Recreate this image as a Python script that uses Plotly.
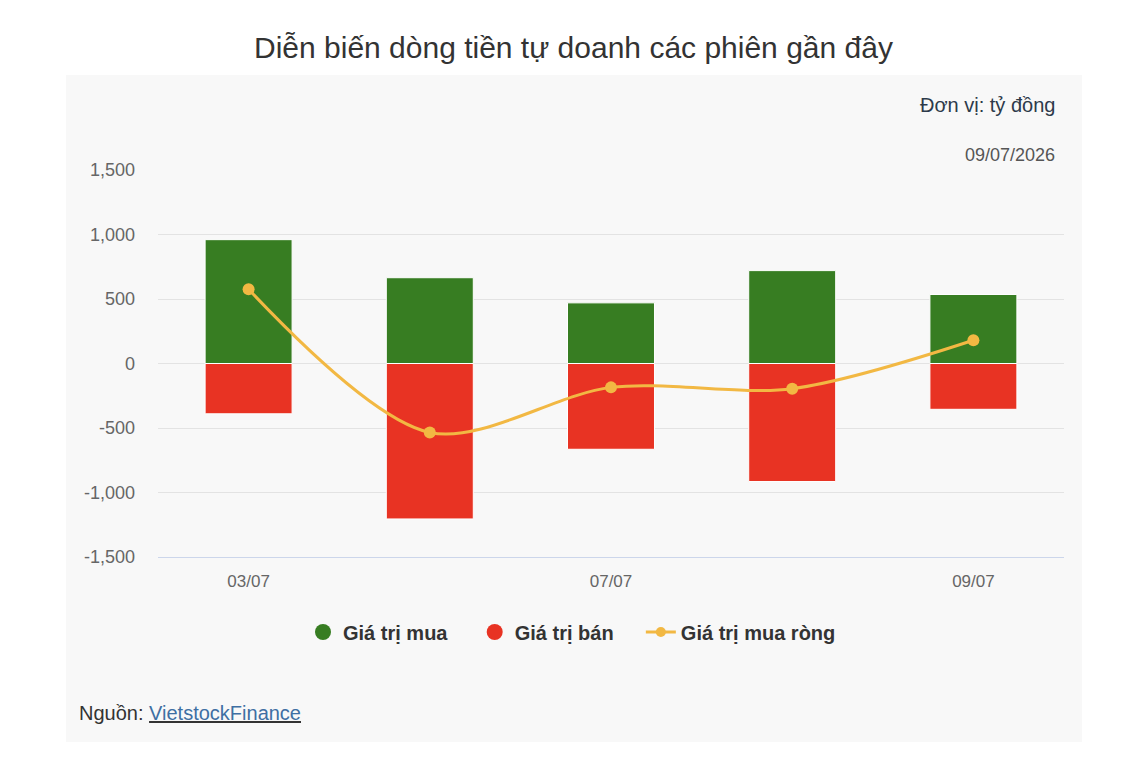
import plotly.graph_objects as go

categories = ["03/07", "06/07", "07/07", "08/07", "09/07"]
buy_values = [960, 665, 470, 720, 535]
sell_values = [-390, -1205, -665, -915, -355]
net_values = [575, -535, -185, -195, 180]
shown_ticks = ["03/07", "07/07", "09/07"]
y_ticks = [-1500, -1000, -500, 0, 500, 1000, 1500]
y_tick_text = ["-1,500", "-1,000", "-500", "0", "500", "1,000", "1,500"]

GREEN = "#377d22"
RED = "#e83323"
YELLOW = "#f2b843"
FONT = "Liberation Sans, Arial, sans-serif"
PAD = "\u00a0" * 4

fig = go.Figure()
fig.add_trace(go.Bar(x=categories, y=buy_values, name="Giá trị mua", marker=dict(color=GREEN, line=dict(color="white", width=1)),
                     width=0.48, showlegend=False))
fig.add_trace(go.Bar(x=categories, y=sell_values, name="Giá trị bán", marker=dict(color=RED, line=dict(color="white", width=1)),
                     width=0.48, showlegend=False))
fig.add_trace(go.Scatter(x=categories, y=net_values, name="Giá trị mua ròng", mode="lines+markers",
                         line=dict(color=YELLOW, width=3, shape="spline", smoothing=0.9),
                         marker=dict(color=YELLOW, size=12), showlegend=False))
# legend entries
fig.add_trace(go.Scatter(x=[None], y=[None], mode="markers", name="Giá trị mua" + PAD,
                         marker=dict(color=GREEN, size=18, symbol="circle")))
fig.add_trace(go.Scatter(x=[None], y=[None], mode="markers", name="Giá trị bán" + PAD,
                         marker=dict(color=RED, size=18, symbol="circle")))
fig.add_trace(go.Scatter(x=[None], y=[None], mode="lines+markers", name="Giá trị mua ròng",
                         line=dict(color=YELLOW, width=3), marker=dict(color=YELLOW, size=10)))

W, H = 1142, 768
L, R, T, B = 158, 1064, 170, 557
pw, ph = R - L, B - T

def px(x):
    return (x - L) / pw

def py(y):
    return (B - y) / ph

fig.update_layout(
    width=W, height=H,
    margin=dict(l=L, r=W - R, t=T, b=H - B),
    paper_bgcolor="white",
    plot_bgcolor="rgba(0,0,0,0)",
    barmode="relative",
    font=dict(family=FONT, color="#333333"),
    showlegend=True,
    legend=dict(orientation="h", x=px(303), xanchor="left", y=py(632), yanchor="middle",
                font=dict(size=20, color="#333333", family=FONT, weight="bold"),
                bgcolor="rgba(0,0,0,0)", itemwidth=30),
    xaxis=dict(type="category", categoryorder="array", categoryarray=categories,
               tickmode="array", tickvals=shown_ticks, ticktext=shown_ticks,
               tickfont=dict(size=17, color="#666666"), showgrid=False,
               showline=True, linecolor="#ccd6eb", linewidth=1, ticks="", ticklabelstandoff=9),
    yaxis=dict(range=[-1500, 1500], tickmode="array", tickvals=y_ticks, ticktext=y_tick_text,
               tickfont=dict(size=18, color="#666666"), showgrid=True, gridcolor="#e3e3e3", gridwidth=1,
               zeroline=False, ticks="", ticklabelstandoff=22),
    shapes=[dict(type="rect", xref="paper", yref="paper", x0=px(66), x1=px(1082), y0=py(742), y1=py(75),
                 fillcolor="#f8f8f8", line=dict(width=0), layer="below")],
    annotations=[
        dict(text="Diễn biến dòng tiền tự doanh các phiên gần đây", xref="paper", yref="paper",
             x=px(573), y=py(48), xanchor="center", yanchor="middle", showarrow=False,
             font=dict(size=30, color="#333333", family=FONT)),
        dict(text="Đơn vị: tỷ đồng", xref="paper", yref="paper", x=px(1057), y=py(105),
             xanchor="right", yanchor="middle", showarrow=False, font=dict(size=20, color="#2d3a4a", family=FONT)),
        dict(text="09/07/2026", xref="paper", yref="paper", x=px(1057), y=py(155),
             xanchor="right", yanchor="middle", showarrow=False, font=dict(size=18, color="#555555", family=FONT)),
        dict(text="Nguồn: <u><span style='color:#3e6fa3'>VietstockFinance</span></u>", xref="paper", yref="paper",
             x=px(77), y=py(713), xanchor="left", yanchor="middle", showarrow=False,
             font=dict(size=20, color="#333333", family=FONT)),
    ],
)

fig.write_html("out.html")
